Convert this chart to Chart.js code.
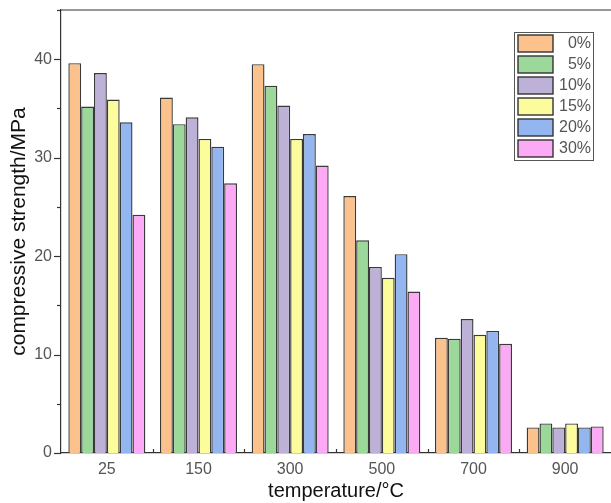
<!DOCTYPE html>
<html>
<head>
<meta charset="utf-8">
<script src="https://cdn.jsdelivr.net/npm/chart.js@4"></script>
<style>
  html, body { margin: 0; padding: 0; background: #fff; }
  #wrap { width: 611px; height: 503px; }
</style>
</head>
<body>
<div id="wrap"><canvas id="strengthChart"></canvas></div>
<script>
// ===== Data =====
const temperatures = ["25", "150", "300", "500", "700", "900"];
const seriesNames = ["0%", "5%", "10%", "15%", "20%", "30%"];
const s0 = [39.6, 36.1, 39.5, 26.1, 11.7, 2.6];
const s5 = [35.2, 33.4, 37.3, 21.6, 11.6, 3.0];
const s10 = [38.6, 34.1, 35.3, 18.9, 13.6, 2.6];
const s15 = [35.9, 31.9, 31.9, 17.8, 12.0, 3.0];
const s20 = [33.6, 31.1, 32.4, 20.2, 12.4, 2.6];
const s30 = [24.2, 27.4, 29.2, 16.4, 11.1, 2.7];
const yTicks = [0, 10, 20, 30, 40];

const fills = ["#fcc28e", "#9dd89b", "#bdb1d8", "#fdfc9c", "#93b6f0", "#fcaaf6"];
const allSeries = [s0, s5, s10, s15, s20, s30];
const FONT = "'Liberation Sans', Arial, sans-serif";

const datasets = allSeries.map((vals, i) => ({
    label: seriesNames[i],
    data: vals,
    backgroundColor: fills[i],
    borderColor: "#3a3a3a",
    borderWidth: 1.4,
    borderSkipped: "bottom",
}));

// ===== Frame, ticks and legend box =====
const framePlugin = {
    id: "frame",
    afterDraw(chart) {
        const { ctx, chartArea: a, scales } = chart;
        ctx.save();
        ctx.strokeStyle = "#333";
        ctx.lineWidth = 1.2;
        // top border
        ctx.beginPath();
        ctx.moveTo(a.left, a.top);
        ctx.lineTo(a.right, a.top);
        ctx.stroke();

        // y ticks (major + minor)
        const y = scales.y;
        for (let v = 0; v <= 45; v += 5) {
            const py = Math.round(y.getPixelForValue(v)) + 0.5;
            const len = v % 10 === 0 ? 7 : 4;
            ctx.beginPath();
            ctx.moveTo(a.left - len, py);
            ctx.lineTo(a.left, py);
            ctx.stroke();
        }
        // x minor ticks between groups
        const x = scales.x;
        for (let i = 0; i < temperatures.length - 1; i++) {
            const px = Math.round((x.getPixelForValue(i) + x.getPixelForValue(i + 1)) / 2) + 0.5;
            ctx.beginPath();
            ctx.moveTo(px, a.bottom);
            ctx.lineTo(px, a.bottom - 4);
            ctx.stroke();
        }

        // legend
        const lx = 514, ly = 32, lw = 79, rowH = 21;
        ctx.lineWidth = 1;
        ctx.strokeStyle = "#555";
        ctx.fillStyle = "#fff";
        ctx.fillRect(lx, ly, lw, rowH * seriesNames.length + 2);
        ctx.strokeRect(lx + 0.5, ly + 0.5, lw, rowH * seriesNames.length + 2);
        ctx.font = "16px " + FONT;
        ctx.textAlign = "right";
        ctx.textBaseline = "middle";
        chart.data.datasets.forEach((ds, i) => {
            const ry = ly + 3 + i * rowH;
            ctx.fillStyle = ds.backgroundColor;
            ctx.fillRect(lx + 4, ry, 35, 17);
            ctx.strokeStyle = "#333";
            ctx.lineWidth = 1.4;
            ctx.strokeRect(lx + 4, ry, 35, 17);
            ctx.fillStyle = "#555";
            ctx.fillText(ds.label, lx + lw - 2, ry + 9);
        });
        ctx.restore();
    },
};

new Chart(document.getElementById("strengthChart"), {
    type: "bar",
    data: { labels: temperatures, datasets },
    options: {
        responsive: true,
        maintainAspectRatio: false,
        animation: false,
        layout: { padding: { top: 10, right: 0, left: 0, bottom: 0 } },
        plugins: {
            legend: { display: false },
            tooltip: { enabled: false },
        },
        datasets: {
            bar: { categoryPercentage: 0.84, barPercentage: 1.0 },
        },
        scales: {
            x: {
                grid: { display: false, drawTicks: false },
                border: { color: "#333", width: 1.2 },
                ticks: {
                    color: "#555",
                    font: { family: FONT, size: 16 },
                    padding: 7,
                },
                title: {
                    display: true,
                    text: "temperature/°C",
                    color: "#111",
                    font: { family: FONT, size: 20 },
                    padding: { top: 0, bottom: 0 },
                },
                afterFit(scale) { scale.height = 50; },
            },
            y: {
                min: 0,
                max: 45,
                afterBuildTicks(scale) {
                    scale.ticks = yTicks.map((v) => ({ value: v }));
                },
                grid: { display: false, drawTicks: false },
                border: { color: "#333", width: 1.2 },
                ticks: {
                    color: "#555",
                    font: { family: FONT, size: 16 },
                    padding: 9,
                },
                title: {
                    display: true,
                    text: "compressive strength/MPa",
                    color: "#111",
                    font: { family: FONT, size: 21 },
                    padding: { top: 7, bottom: 0 },
                },
                afterFit(scale) {
                    scale.width = 61;
                    scale.paddingTop = 0;
                    scale.paddingBottom = 0;
                },
            },
        },
    },
    plugins: [framePlugin],
});
</script>
</body>
</html>
